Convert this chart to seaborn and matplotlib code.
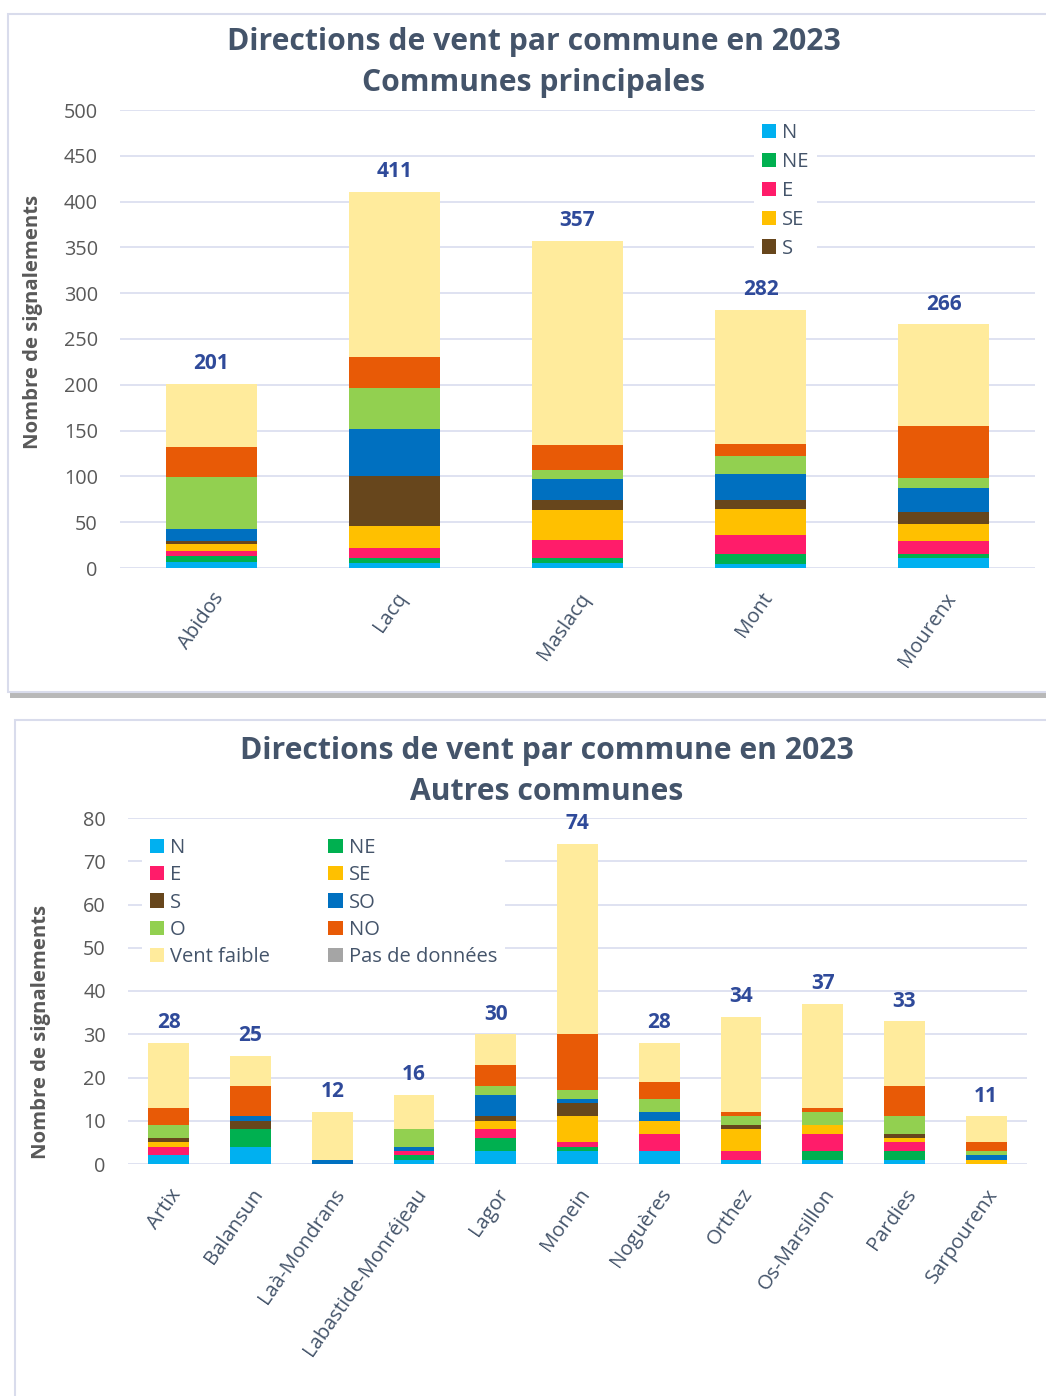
import numpy as np
import pandas as pd
import matplotlib
matplotlib.use("Agg")
import matplotlib.pyplot as plt
from matplotlib.patches import Rectangle, Patch
import seaborn as sns

# ---------------- data ----------------
directions = ["N", "NE", "E", "SE", "S", "SO", "O", "NO", "Vent faible", "Pas de données"]
colors = ["#00B0F0", "#00B050", "#FF1C6A", "#FFC000", "#67461C",
          "#0070C0", "#92D050", "#E85A06", "#FFEB9C", "#A5A5A5"]

communes_princ = ["Abidos", "Lacq", "Maslacq", "Mont", "Mourenx"]
p_N  = [7, 6, 6, 4, 11]
p_NE = [6, 5, 5, 11, 4]
p_E  = [6, 11, 20, 21, 14]
p_SE = [7, 24, 32, 28, 19]
p_S  = [4, 54, 11, 10, 13]
p_SO = [13, 52, 23, 29, 26]
p_O  = [56, 45, 10, 19, 11]
p_NO = [33, 33, 27, 13, 57]
p_VF = [69, 181, 223, 147, 111]
p_PD = [0, 0, 0, 0, 0]

communes_autres = ["Artix", "Balansun", "Laà-Mondrans", "Labastide-Monréjeau", "Lagor",
                   "Monein", "Noguères", "Orthez", "Os-Marsillon", "Pardies", "Sarpourenx"]
a_N  = [2, 4, 0, 1, 3, 3, 3, 1, 1, 1, 0]
a_NE = [0, 4, 0, 1, 3, 1, 0, 0, 2, 2, 0]
a_E  = [2, 0, 0, 1, 2, 1, 4, 2, 4, 2, 0]
a_SE = [1, 0, 0, 0, 2, 6, 3, 5, 2, 1, 1]
a_S  = [1, 2, 0, 0, 1, 3, 0, 1, 0, 1, 0]
a_SO = [0, 1, 1, 1, 5, 1, 2, 0, 0, 0, 1]
a_O  = [3, 0, 0, 4, 2, 2, 3, 2, 3, 4, 1]
a_NO = [4, 7, 0, 0, 5, 13, 4, 1, 1, 7, 2]
a_VF = [15, 7, 11, 8, 7, 44, 9, 22, 24, 15, 6]
a_PD = [0, 0, 0, 0, 0, 0, 0, 0, 0, 0, 0]


def make_df(communes, series):
    rows = []
    for d, vals in zip(directions, series):
        for c, v in zip(communes, vals):
            rows.append({"commune": c, "direction": d, "valeur": v})
    return pd.DataFrame(rows)


df_p = make_df(communes_princ, [p_N, p_NE, p_E, p_SE, p_S, p_SO, p_O, p_NO, p_VF, p_PD])
df_a = make_df(communes_autres, [a_N, a_NE, a_E, a_SE, a_S, a_SO, a_O, a_NO, a_VF, a_PD])

# ---------------- style ----------------
sns.set_theme(style="white")
FONT = ["Open Sans", "DejaVu Sans"]
plt.rcParams["font.family"] = FONT
TXT = "#44546A"
GRID = "#DCDFF0"
TOTAL_C = "#2F4A9A"

W, H = 1046, 1396
fig = plt.figure(figsize=(W / 100, H / 100), dpi=100)


def px(x, y):
    return x / W, 1 - y / H


# cards (background panels)
def card(x0, y0, x1, y1, shadow=True):
    if shadow:
        fig.patches.append(Rectangle(px(x0 + 2, y1 + 6), (x1 - x0) / W, 6 / H,
                                     transform=fig.transFigure, facecolor="#B8B8B8",
                                     edgecolor="none", zorder=-3))
    fig.patches.append(Rectangle(px(x0, y1), (x1 - x0) / W, (y1 - y0) / H,
                                 transform=fig.transFigure, facecolor="white",
                                 edgecolor="#D9DCEC", linewidth=1.5, zorder=-2))


card(8, 14, 1060, 692, shadow=True)
card(15, 720, 1060, 1410, shadow=False)


def stacked(ax, df, communes, width):
    piv = df.pivot(index="commune", columns="direction", values="valeur").loc[communes, directions]
    cum = piv.cumsum(axis=1)
    for d, col in reversed(list(zip(directions, colors))):
        sub = pd.DataFrame({"commune": communes, "cum": cum[d].values})
        sns.barplot(data=sub, x="commune", y="cum", color=col, width=width,
                    saturation=1, ax=ax, order=communes, zorder=3,
                    edgecolor="none", linewidth=0)
    totals = piv.sum(axis=1)
    return totals


def style_axes(ax, ymax, step, ytick_fs, xlabel_fs):
    ax.set_ylim(0, ymax)
    ax.set_yticks(np.arange(0, ymax + 1, step))
    ax.yaxis.grid(True, color=GRID, linewidth=1.3, zorder=0)
    ax.set_axisbelow(True)
    for s in ax.spines.values():
        s.set_visible(False)
    ax.tick_params(axis="y", length=0, labelsize=ytick_fs, labelcolor="#595959", pad=16)
    ax.tick_params(axis="x", length=0, labelsize=xlabel_fs, labelcolor=TXT, pad=15)
    plt.setp(ax.get_xticklabels(), rotation=55, ha="right", rotation_mode="anchor")
    ax.set_xlabel("")
    ax.set_facecolor("none")


# ---------------- top chart ----------------
ax1 = fig.add_axes([120 / W, 1 - 568 / H, 915 / W, 458 / H])
tot1 = stacked(ax1, df_p, communes_princ, 0.5)
style_axes(ax1, 500, 50, 14.3, 14.6)
ax1.set_xlim(-0.5, len(communes_princ) - 0.5)
ax1.set_ylabel("Nombre de signalements", fontsize=14.6, fontweight="bold", color="#595959")
ax1.yaxis.set_label_coords(-0.084, 0.537)
for i, t in enumerate(tot1):
    ax1.annotate(f"{int(t)}", (i, t), xytext=(0, 7), textcoords="offset points",
                 ha="center", va="bottom", fontsize=15, fontweight="bold", color=TOTAL_C)
fig.text(534 / W, 1 - 42 / H, "Directions de vent par commune en 2023", ha="center", va="center",
         fontsize=21.7, fontweight="bold", color=TXT)
fig.text(534 / W, 1 - 83 / H, "Communes principales", ha="center", va="center",
         fontsize=21.7, fontweight="bold", color=TXT)
h1 = [Patch(facecolor=c, edgecolor="none") for c in colors[:5]]
leg1 = ax1.legend(h1, directions[:5], loc="upper left", bbox_to_anchor=px(754, 115),
                  bbox_transform=fig.transFigure, frameon=True, framealpha=1,
                  facecolor="white", edgecolor="none", fontsize=14.5,
                  handlelength=0.7, handleheight=0.7, handletextpad=0.3,
                  labelspacing=0.44, borderpad=0.4, borderaxespad=0)
for t in leg1.get_texts():
    t.set_color(TXT)
leg1.set_zorder(5)

# ---------------- bottom chart ----------------
ax2 = fig.add_axes([128 / W, 1 - 1164 / H, 899 / W, 346 / H])
tot2 = stacked(ax2, df_a, communes_autres, 0.5)
style_axes(ax2, 80, 10, 14.3, 14.6)
ax2.set_xlim(-0.5, len(communes_autres) - 0.5)
ax2.set_ylabel("Nombre de signalements", fontsize=14.6, fontweight="bold", color="#595959")
ax2.yaxis.set_label_coords(-0.0857, 0.381)
for i, t in enumerate(tot2):
    ax2.annotate(f"{int(t)}", (i, t), xytext=(0, 7), textcoords="offset points",
                 ha="center", va="bottom", fontsize=15, fontweight="bold", color=TOTAL_C)
fig.text(547 / W, 1 - 751 / H, "Directions de vent par commune en 2023", ha="center", va="center",
         fontsize=21.7, fontweight="bold", color=TXT)
fig.text(547 / W, 1 - 792 / H, "Autres communes", ha="center", va="center",
         fontsize=21.7, fontweight="bold", color=TXT)
order_idx = [0, 2, 4, 6, 8, 1, 3, 5, 7, 9]
h2 = [Patch(facecolor=colors[i], edgecolor="none") for i in order_idx]
l2 = [directions[i] for i in order_idx]
leg2 = ax2.legend(h2, l2, loc="upper left", bbox_to_anchor=px(142, 830),
                  bbox_transform=fig.transFigure, ncol=2, frameon=True, framealpha=1,
                  facecolor="white", edgecolor="none", fontsize=14.5,
                  handlelength=0.7, handleheight=0.7, handletextpad=0.3,
                  labelspacing=0.36, borderpad=0.4, borderaxespad=0, columnspacing=2.9)
for t in leg2.get_texts():
    t.set_color(TXT)
leg2.set_zorder(5)

fig.savefig("out.png", dpi=100, facecolor="white")
